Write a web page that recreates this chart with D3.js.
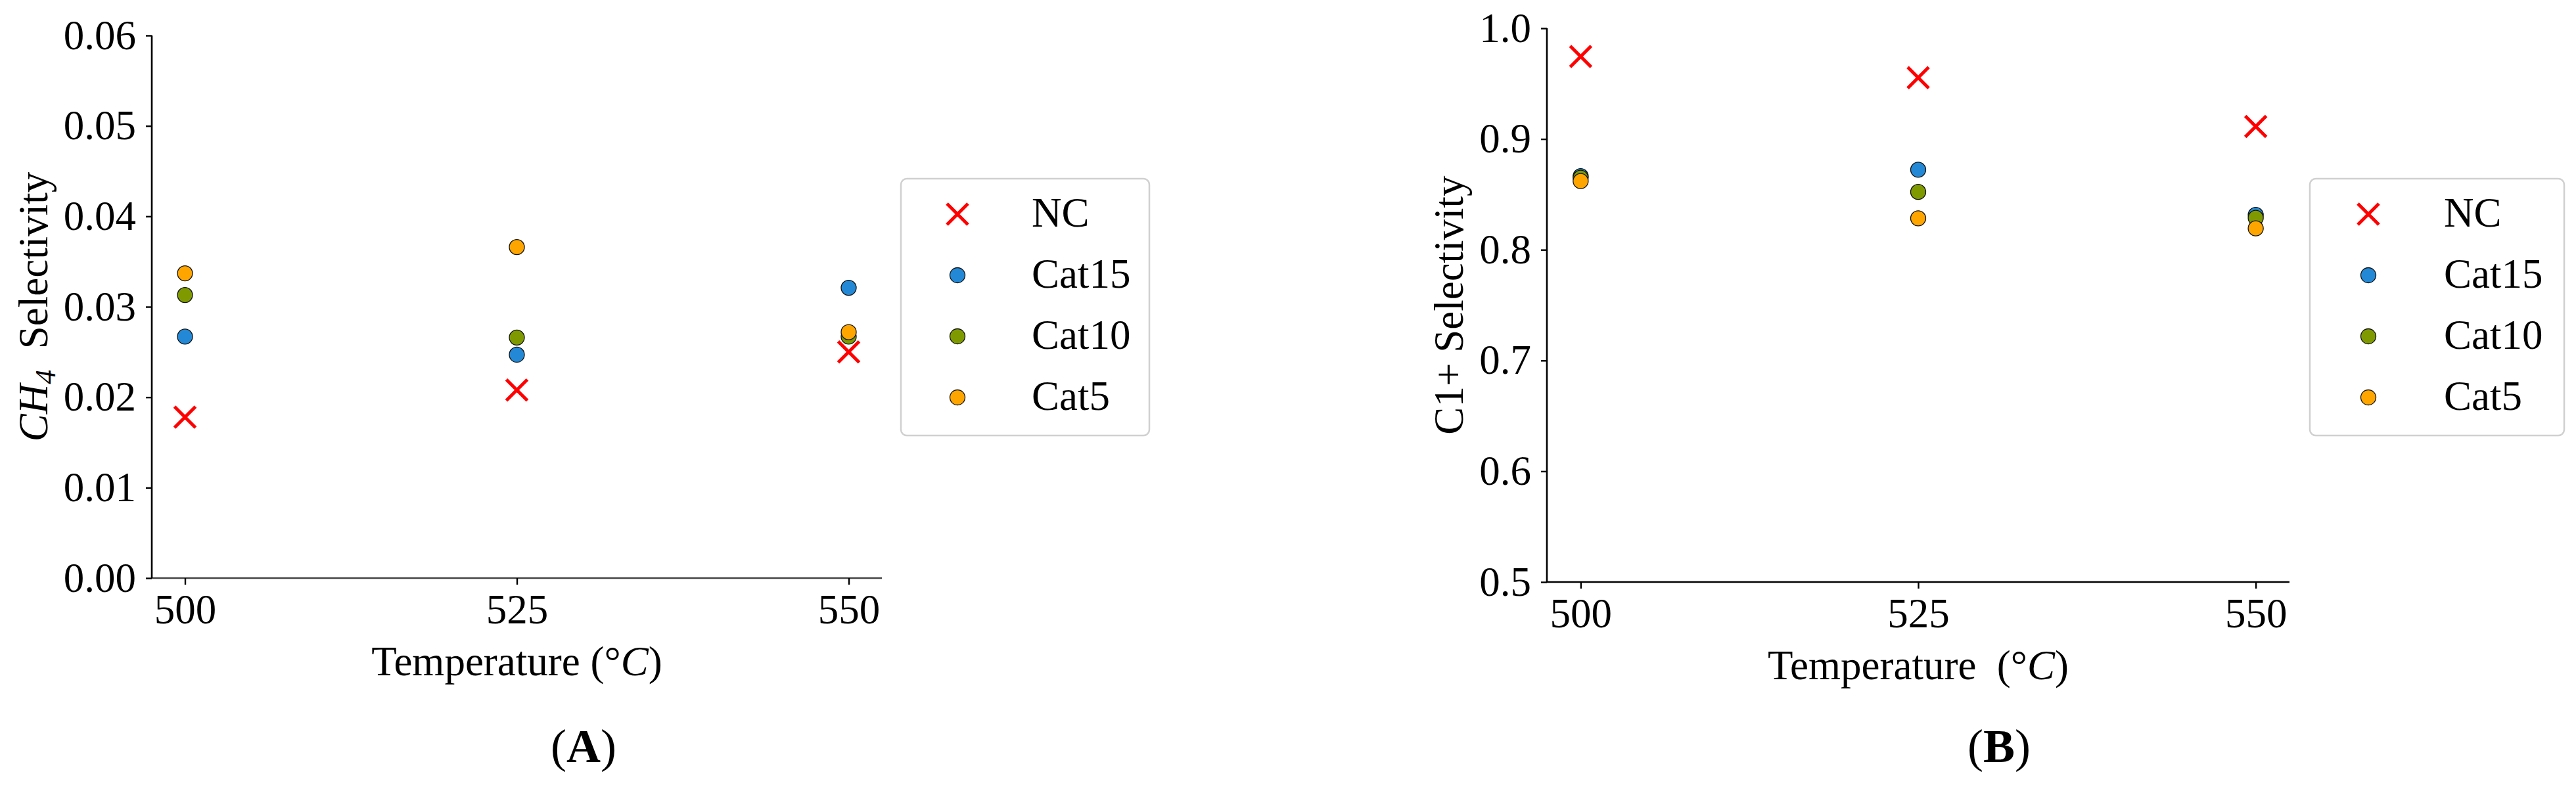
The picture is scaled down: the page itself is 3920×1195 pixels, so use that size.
<!DOCTYPE html>
<html><head><meta charset="utf-8">
<script src="https://cdn.jsdelivr.net/npm/d3@7"></script>
<style>
html,body{margin:0;padding:0;background:#fff;}
svg text{font-family:"Liberation Serif","Times New Roman",serif;fill:#000;}
</style></head>
<body>
<svg id="chart" width="3920" height="1195"></svg>
<script>
// ---- data ----
const temperatures = [500, 525, 550];
const seriesNames = ["NC", "Cat15", "Cat10", "Cat5"];
// Panel A: CH4 selectivity
const ch4_NC    = [0.0178, 0.0208, 0.0250];
const ch4_Cat15 = [0.0267, 0.0247, 0.0321];
const ch4_Cat10 = [0.0313, 0.0266, 0.0267];
const ch4_Cat5  = [0.0337, 0.0366, 0.0272];
// Panel B: C1+ selectivity
const c1_NC    = [0.9745, 0.9554, 0.9113];
const c1_Cat15 = [0.8665, 0.8723, 0.8315];
const c1_Cat10 = [0.8650, 0.8522, 0.8288];
const c1_Cat5  = [0.8620, 0.8284, 0.8193];
const yTicksA = [0, 0.01, 0.02, 0.03, 0.04, 0.05, 0.06];
const yTicksB = [0.5, 0.6, 0.7, 0.8, 0.9, 1.0];
const xTicks = [500, 525, 550];

const colors = {NC:"#ff0000", Cat15:"#2389d6", Cat10:"#7f9a00", Cat5:"#ffa500"};

const svg = d3.select("#chart");
const FS = 63;

function crossPath(h){ return `M${-h},${-h}L${h},${h}M${-h},${h}L${h},${-h}`; }

function panel(cfg){
  const g = svg.append("g");
  const x = d3.scaleLinear().domain([497.5, 552.5]).range([cfg.x0, cfg.x1]);
  const y = d3.scaleLinear().domain(cfg.yDomain).range([cfg.y0, cfg.y1]);

  // axes
  const ax = g.append("g").attr("transform", `translate(0,${cfg.y0})`)
    .call(d3.axisBottom(x).tickValues(xTicks).tickSize(10).tickPadding(14).tickFormat(d3.format("d")));
  const ay = g.append("g").attr("transform", `translate(${cfg.x0},0)`)
    .call(d3.axisLeft(y).tickValues(cfg.yTicks).tickSize(9).tickPadding(15).tickFormat(d3.format(cfg.fmt)));
  [ax, ay].forEach(a => {
    a.selectAll(".domain").attr("stroke","#000").attr("stroke-width",2.6);
    a.selectAll(".tick line").attr("stroke","#000").attr("stroke-width",2.4);
    a.selectAll(".tick text").style("font-size", FS+"px")
      .style("font-family",'"Liberation Serif",serif');
  });
  ax.select(".domain").attr("d", `M${cfg.x0},0H${cfg.x1}`).attr("stroke", cfg.xAxisColor);
  ay.select(".domain").attr("d", `M0,${cfg.y0}V${cfg.y1}`);

  // points
  const series = [
    {name:"Cat15", vals:cfg.data.Cat15},
    {name:"Cat10", vals:cfg.data.Cat10},
    {name:"Cat5",  vals:cfg.data.Cat5}
  ];
  series.forEach(s => {
    g.append("g").selectAll("circle").data(s.vals).join("circle")
      .attr("cx",(d,i)=>x(temperatures[i])).attr("cy",d=>y(d)).attr("r",11.5)
      .attr("fill",colors[s.name]).attr("stroke","#111").attr("stroke-width",1.3);
  });
  g.append("g").selectAll("path").data(cfg.data.NC).join("path")
    .attr("transform",(d,i)=>`translate(${x(temperatures[i])},${y(d)})`)
    .attr("d", crossPath(16))
    .attr("fill","none").attr("stroke",colors.NC).attr("stroke-width",5);

  // x label
  const xl = g.append("text").attr("x",(cfg.x0+cfg.x1)/2).attr("y",cfg.xLabelY)
    .attr("text-anchor","middle").style("font-size",FS+"px").style("white-space","pre");
  xl.append("tspan").text(cfg.xLabelPre);
  xl.append("tspan").text("C").style("font-style","italic");
  xl.append("tspan").text(")");

  // y label
  const yl = g.append("text")
    .attr("transform",`translate(${cfg.yLabelX},${(cfg.y0+cfg.y1)/2}) rotate(-90)`)
    .attr("text-anchor","middle").style("font-size",FS+"px").style("white-space","pre");
  cfg.yLabel(yl);

  // panel letter
  const pl = g.append("text").attr("x",cfg.letterX).attr("y",1160).attr("text-anchor","middle")
    .style("font-size","72px");
  pl.append("tspan").text("(");
  pl.append("tspan").text(cfg.letter).style("font-weight","bold");
  pl.append("tspan").text(")");

  // legend
  const L = cfg.legend;
  g.append("rect").attr("x",L.x).attr("y",L.y).attr("width",L.w).attr("height",L.h)
    .attr("rx",9).attr("fill","#fff").attr("stroke","#d0d0d0").attr("stroke-width",2.5);
  seriesNames.forEach((n,i)=>{
    const cy = L.y + 54 + i*93;
    if(n==="NC"){
      g.append("path").attr("transform",`translate(${L.mx},${cy})`).attr("d",crossPath(16))
        .attr("fill","none").attr("stroke",colors.NC).attr("stroke-width",5);
    } else {
      g.append("circle").attr("cx",L.mx).attr("cy",cy).attr("r",11.5)
        .attr("fill",colors[n]).attr("stroke","#111").attr("stroke-width",1.3);
    }
    g.append("text").attr("x",L.tx).attr("y",cy+19).style("font-size",FS+"px").text(n);
  });
}

panel({
  x0:231, x1:1342, y0:880, y1:54, yDomain:[0,0.06], yTicks:yTicksA, fmt:".2f",
  data:{NC:ch4_NC, Cat15:ch4_Cat15, Cat10:ch4_Cat10, Cat5:ch4_Cat5},
  xAxisColor:"#444",
  xLabelY:1028, xLabelPre:"Temperature (\u00B0",
  yLabelX:72,
  yLabel: t => {
    t.append("tspan").text("CH").style("font-style","italic");
    t.append("tspan").text("4").style("font-style","italic").style("font-size","44px").attr("dy",12);
    t.append("tspan").text("  Selectivity").attr("dy",-12);
  },
  letter:"A", letterX:888,
  legend:{x:1371, y:272, w:378, h:391, mx:1457, tx:1570}
});
panel({
  x0:2354, x1:3484, y0:886, y1:43, yDomain:[0.5,1.0], yTicks:yTicksB, fmt:".1f",
  data:{NC:c1_NC, Cat15:c1_Cat15, Cat10:c1_Cat10, Cat5:c1_Cat5},
  xAxisColor:"#000",
  xLabelY:1034, xLabelPre:"Temperature  (\u00B0",
  yLabelX:2226,
  yLabel: t => { t.text("C1+ Selectivity"); },
  letter:"B", letterX:3042,
  legend:{x:3515, y:272, w:387, h:391, mx:3604, tx:3719}
});
</script>
</body></html>
